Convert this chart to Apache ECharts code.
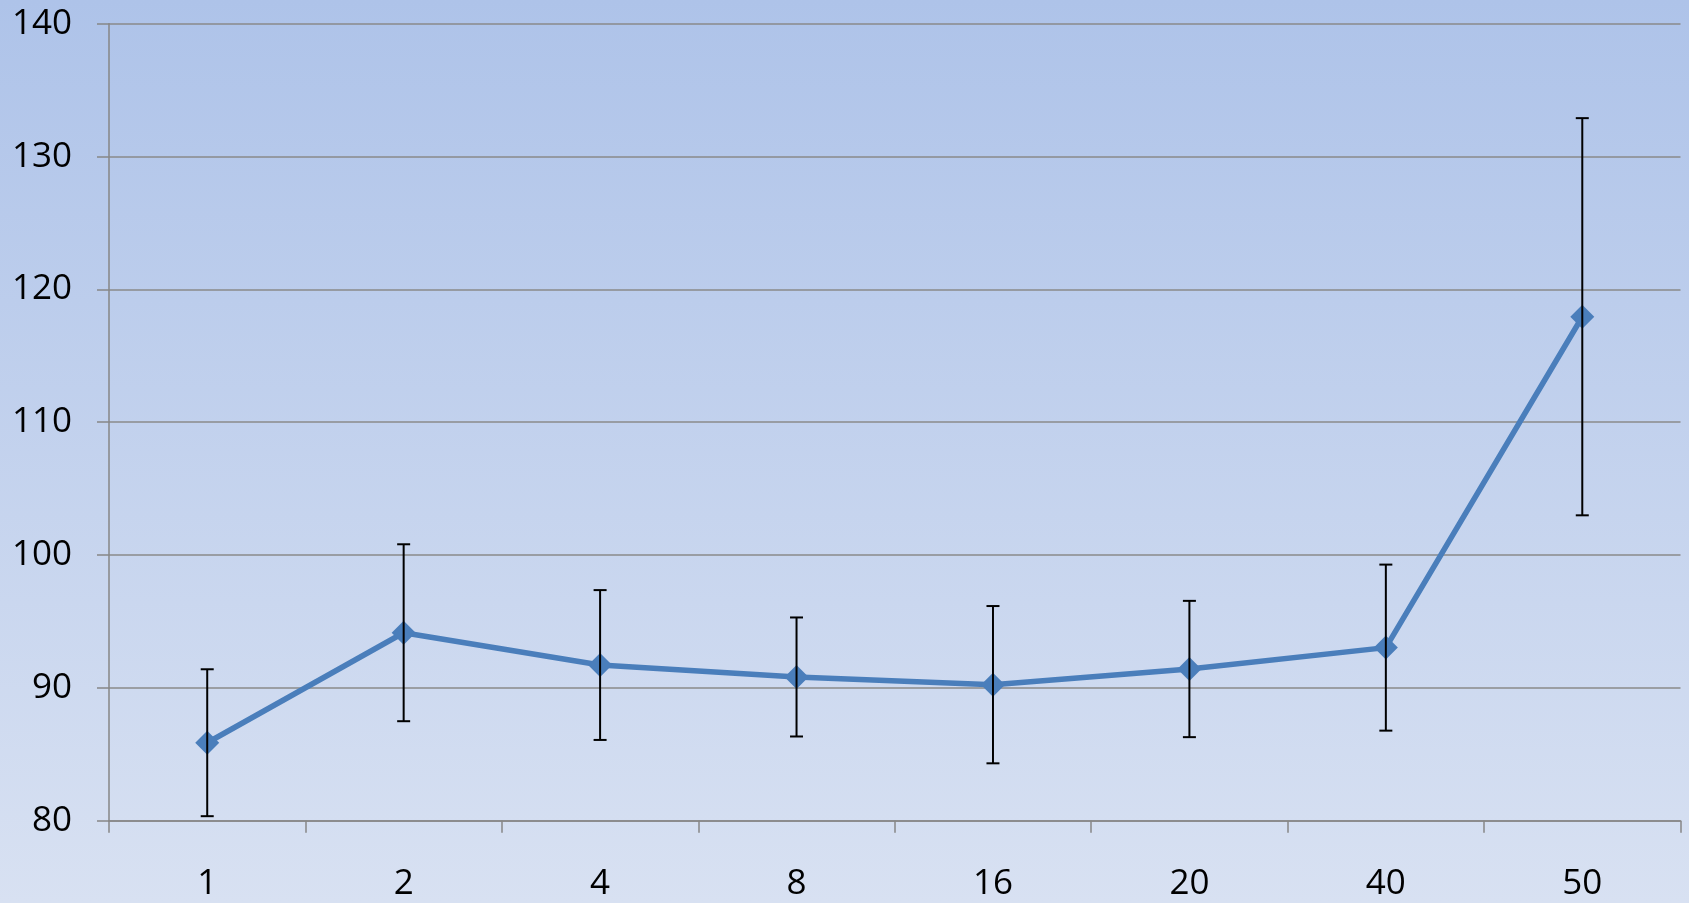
<!DOCTYPE html>
<html>
<head>
<meta charset="utf-8">
<script src="https://cdn.jsdelivr.net/npm/echarts@6/dist/echarts.min.js"></script>
<style>
html,body{margin:0;padding:0;}
#chart{width:1689px;height:903px;background:linear-gradient(to bottom,#aec3e9 0%,#d8e1f2 100%);}
</style>
</head>
<body>
<div id="chart"></div>
<script>
const categories = ['1', '2', '4', '8', '16', '20', '40', '50'];
const values = [85.87, 94.15, 91.72, 90.82, 90.24, 91.42, 93.03, 117.94];
const errors = [5.53, 6.66, 5.64, 4.48, 5.92, 5.13, 6.25, 14.95];
const yTicks = [80, 90, 100, 110, 120, 130, 140];

const errData = categories.map((c, i) => [i, values[i] - errors[i], values[i] + errors[i]]);

const chart = echarts.init(document.getElementById('chart'), null, {renderer: 'canvas'});
const fontFamily = '"Open Sans", "Liberation Sans", Arial, sans-serif';
chart.setOption({
  animation: false,
  backgroundColor: 'transparent',
  grid: {left: 109, right: 8.5, top: 23.7, bottom: 82.3, containLabel: false},
  xAxis: {
    type: 'category',
    data: categories,
    boundaryGap: true,
    axisLine: {show: true, lineStyle: {color: '#868686', width: 1.5}},
    axisTick: {show: true, length: 12, inside: false, alignWithLabel: false, lineStyle: {color: '#868686', width: 1.5}},
    axisLabel: {color: '#000', fontSize: 35, fontFamily: fontFamily, margin: 46},
    splitLine: {show: false}
  },
  yAxis: {
    type: 'value',
    min: yTicks[0],
    max: yTicks[yTicks.length - 1],
    interval: 10,
    axisLine: {show: true, lineStyle: {color: '#868686', width: 1.5}},
    axisTick: {show: true, length: 12, inside: false, lineStyle: {color: '#868686', width: 1.5}},
    axisLabel: {color: '#000', fontSize: 35, fontFamily: fontFamily, margin: 37},
    splitLine: {show: true, lineStyle: {color: '#8a8a8a', width: 1.5}}
  },
  series: [
    {
      type: 'line',
      data: values,
      symbol: 'diamond',
      symbolSize: 24,
      lineStyle: {color: '#4a7ebb', width: 5.5},
      itemStyle: {color: '#4a7ebb'},
      z: 2
    },
    {
      type: 'custom',
      data: errData,
      z: 3,
      renderItem: function (params, api) {
        const x = api.value(0);
        const lo = api.coord([x, api.value(1)]);
        const hi = api.coord([x, api.value(2)]);
        const hw = 6.5;
        const style = {stroke: '#000', lineWidth: 2};
        return {
          type: 'group',
          children: [
            {type: 'line', shape: {x1: hi[0], y1: hi[1], x2: lo[0], y2: lo[1]}, style: style},
            {type: 'line', shape: {x1: hi[0] - hw, y1: hi[1], x2: hi[0] + hw, y2: hi[1]}, style: style},
            {type: 'line', shape: {x1: lo[0] - hw, y1: lo[1], x2: lo[0] + hw, y2: lo[1]}, style: style}
          ]
        };
      }
    }
  ]
});
</script>
</body>
</html>
